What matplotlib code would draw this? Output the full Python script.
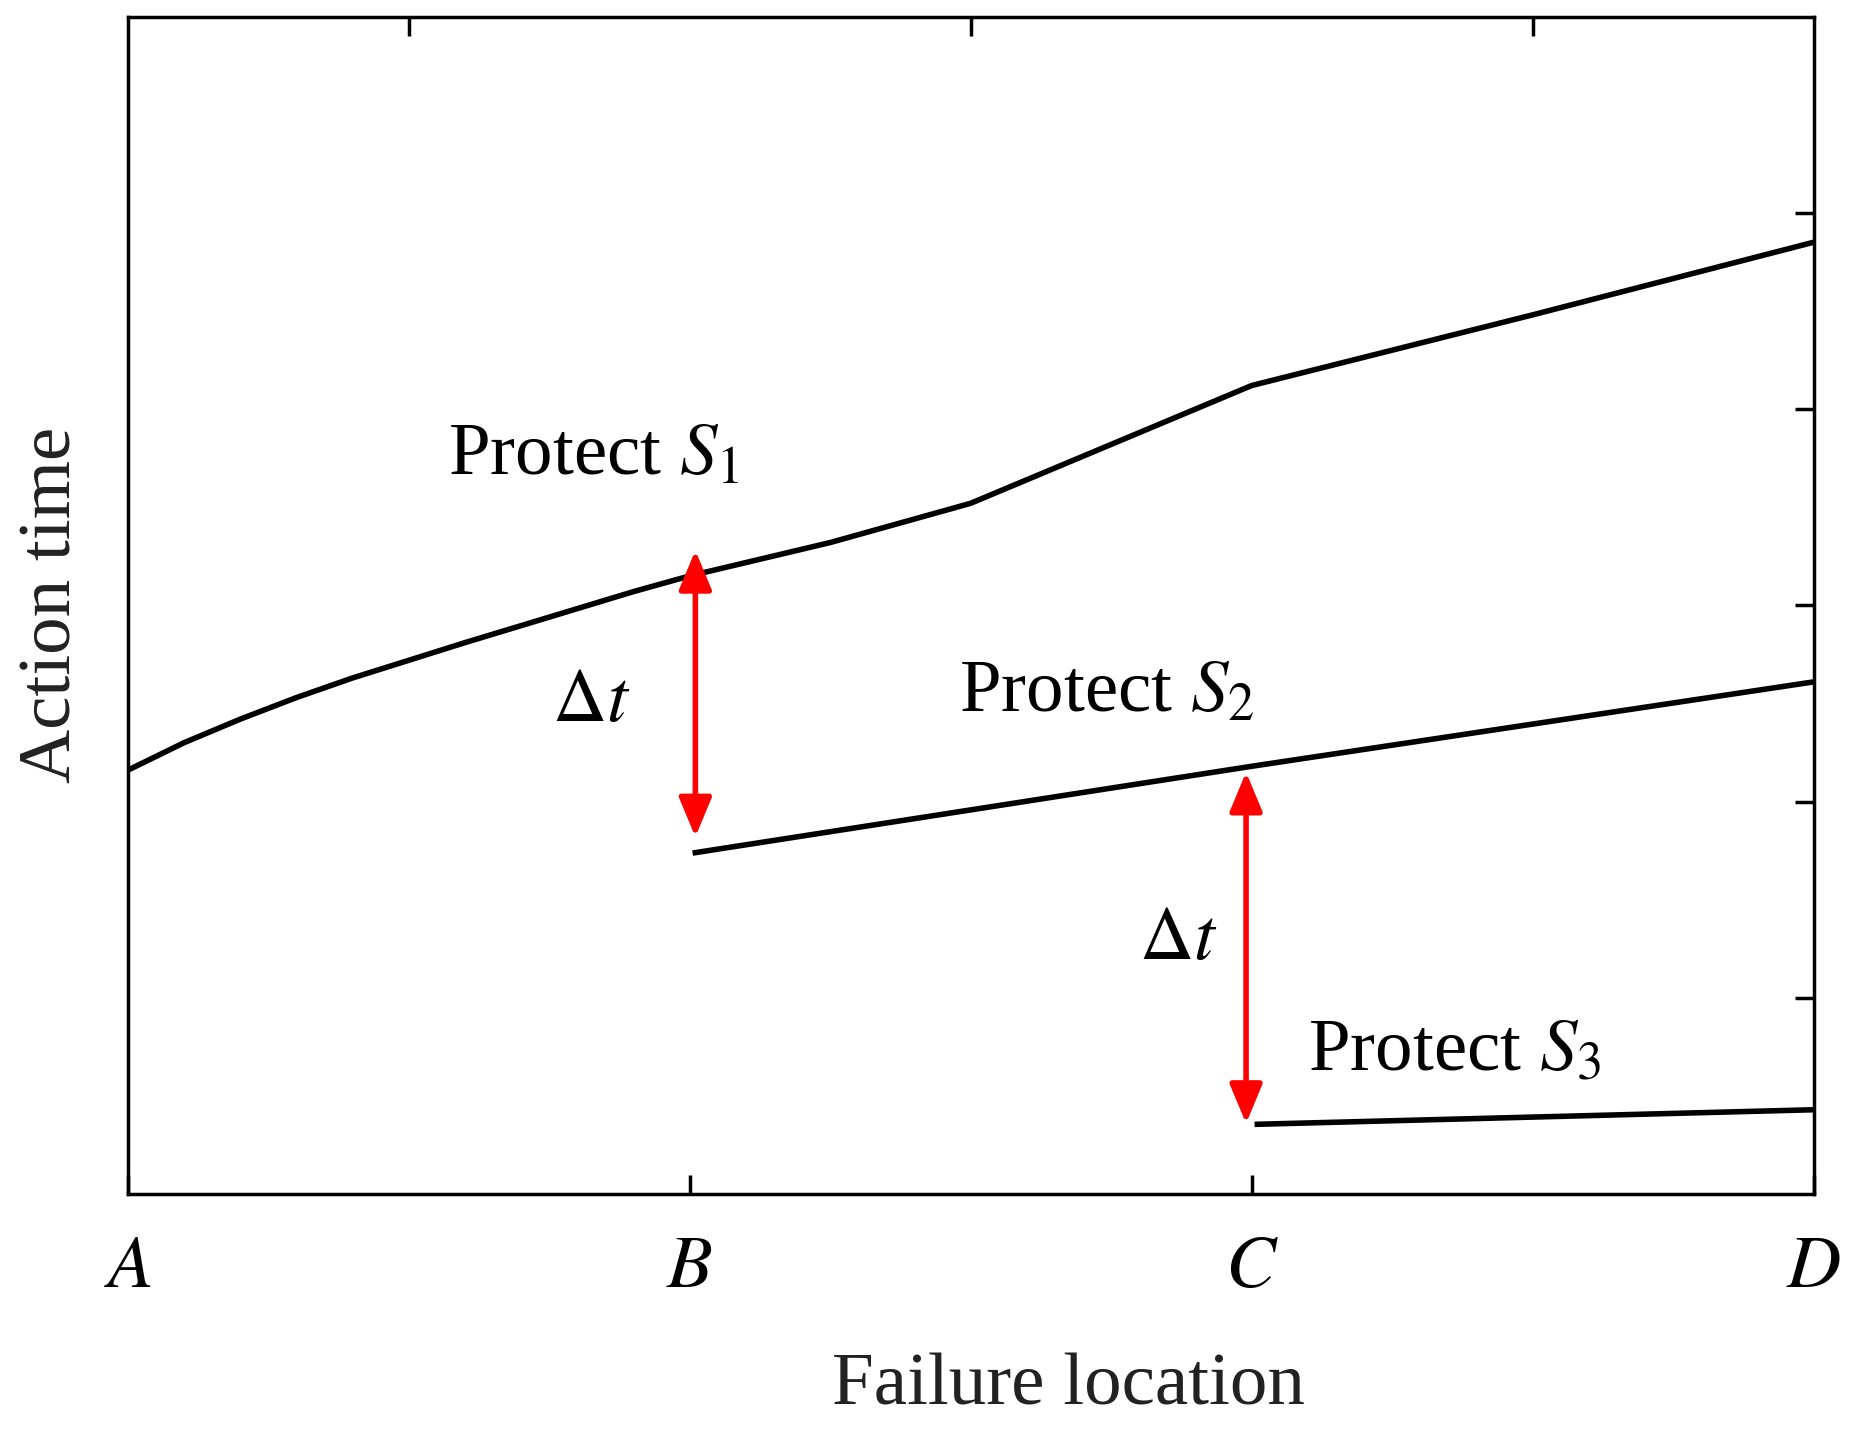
import matplotlib
matplotlib.use("Agg")
import matplotlib.pyplot as plt

plt.rcParams['font.family'] = ['Liberation Serif', 'DejaVu Serif']
plt.rcParams['mathtext.fontset'] = 'stix'

tick_labels = ['$A$', '$B$', '$C$', '$D$']
s1_x = [0, 0.05, 0.1, 0.2, 0.3, 0.4, 0.5, 0.6, 0.75, 0.9, 1, 1.25, 1.5, 2, 2.5, 3]
s1_y = [2.16, 2.23, 2.30, 2.42, 2.53, 2.63, 2.72, 2.81, 2.94, 3.07, 3.15, 3.32, 3.52, 4.12, 4.48, 4.85]
s2_x = [1.01, 2, 3]
s2_y = [1.74, 2.18, 2.61]
s3_x = [2.01, 3]
s3_y = [0.356, 0.43]
arrows = [(1.01, 3.28, 1.82), (1.99, 2.15, 0.36)]

fig = plt.figure(figsize=(18.55, 14.37), dpi=100)
ax = fig.add_axes([0.0689, 0.169, 0.9088, 0.8195])
lw = 4.0
ax.plot(s1_x, s1_y, color='black', lw=lw, solid_joinstyle='round')
ax.plot(s2_x, s2_y, color='black', lw=lw)
ax.plot(s3_x, s3_y, color='black', lw=lw)
for x, y0, y1 in arrows:
    ax.annotate('', xy=(x, y1), xytext=(x, y0),
                arrowprops=dict(arrowstyle='<|-|>,head_length=2.4,head_width=1.0',
                                color='red', lw=4, shrinkA=0, shrinkB=0))
fs = 54
ax.text(0.57, 3.76, 'Protect $S_1$', fontsize=fs, va='center')
ax.text(1.48, 2.55, 'Protect $S_2$', fontsize=fs, va='center')
ax.text(2.1, 0.72, 'Protect $S_3$', fontsize=fs, va='center')
ax.text(0.825, 2.5, r'$\Delta t$', fontsize=fs, va='center', ha='center')
ax.text(1.87, 1.29, r'$\Delta t$', fontsize=fs, va='center', ha='center')

ax.set_xlim(0, 3)
ax.set_ylim(0, 6)
ax.set_xticks([0, 1, 2, 3])
ax.set_xticklabels(tick_labels, fontsize=fs)
ax.set_yticks([])
for s in ax.spines.values():
    s.set_linewidth(2.5)
ax.tick_params(axis='x', direction='in', length=14, width=2.5, pad=30)
sec = ax.secondary_xaxis('top')
sec.set_xticks([0.5, 1.5, 2.5])
sec.set_xticklabels([])
sec.tick_params(direction='in', length=14, width=2.5)
secy = ax.secondary_yaxis('right')
secy.set_yticks([1, 2, 3, 4, 5])
secy.set_yticklabels([])
secy.tick_params(direction='in', length=14, width=2.5)
ax.set_xlabel('Failure location', fontsize=fs, labelpad=40, color='#222222')
ax.xaxis.set_label_coords(0.558, -0.135)
ax.set_ylabel('Action time', fontsize=fs, labelpad=30, color='#222222')
fig.savefig('out.png', dpi=100)
